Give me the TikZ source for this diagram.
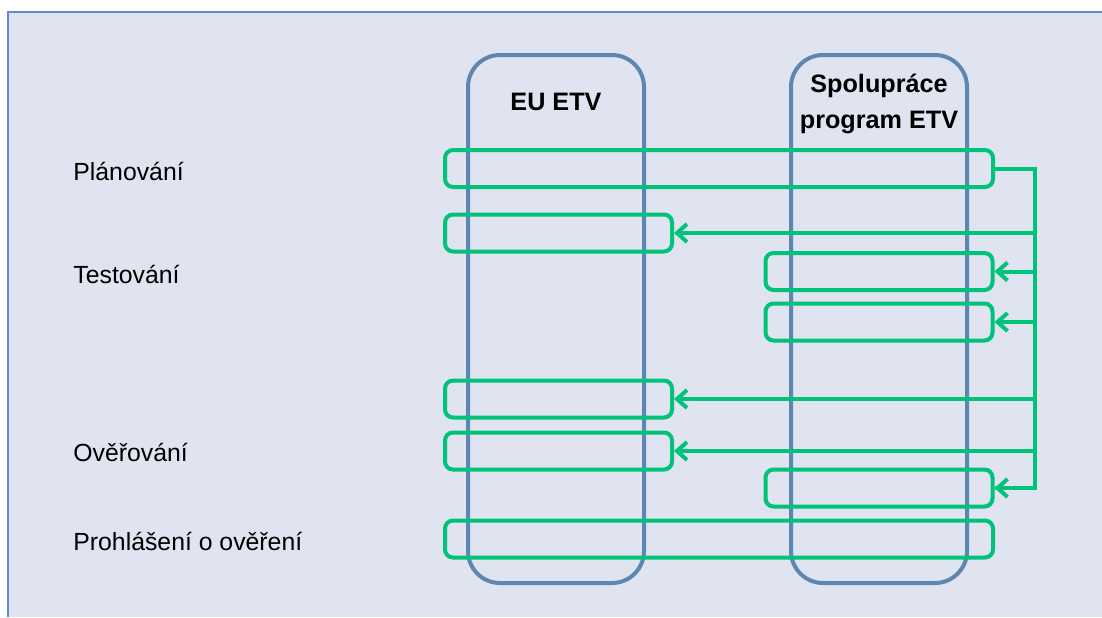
\documentclass[tikz,border=0pt]{standalone}
\usepackage{fontspec}
\setmainfont{Liberation Sans}
\usetikzlibrary{arrows.meta,positioning}

\definecolor{panelbg}{RGB}{224,227,240}
\definecolor{panelline}{RGB}{95,140,205}
\definecolor{lanecol}{RGB}{91,135,176}
\definecolor{stepgreen}{RGB}{0,194,120}

\tikzset{
  lane/.style={draw=lanecol, line width=2pt, rounded corners=16pt,
    minimum width=88pt, minimum height=264pt},
  task/.style={draw=stepgreen, line width=2pt, rounded corners=4pt,
    minimum height=18.5pt, inner sep=0pt},
  shorttask/.style={task, minimum width=113.5pt},
  longtask/.style={task, minimum width=274pt},
  phase/.style={anchor=west, inner sep=0pt, text height=8.9pt, text depth=0pt,
    font=\fontsize{12.4}{14}\selectfont},
  head/.style={align=center, inner sep=0pt, font=\fontsize{12.6}{18}\selectfont\bfseries},
  wire/.style={draw=stepgreen, line width=2pt},
  flow/.style={wire, -{Straight Barb[length=5pt,width=9pt]}},
}

\begin{document}
\begin{tikzpicture}[x=0.5pt,y=-0.5pt]
        \useasboundingbox (0,0) rectangle (1102,617);
        \fill[panelbg] (8,12) rectangle (1102,617);
        \draw[panelline, line width=0.6pt] (8,617) -- (8,12) -- (1102,12);

        % lanes
        \node[lane] (eu) at (556,319) {};
        \node[lane] (coop) at (879,319) {};
        \node[head] (euhead) at (556,102) {EU ETV};
        \node[head] (coophead) at (879,104) {Spolupráce\\program ETV};

        % phases
        \node[phase] (plan) at (73,171.5) {Plánování};
        \node[phase] (test) at (73,274.5) {Testování};
        \node[phase] (verify) at (73,453) {Ověřování};
        \node[phase] (declare) at (73,541.5) {Prohlášení o ověření};

        % steps
        \node[longtask] (plantask) at (719,168.5) {};
        \node[shorttask] (euA) at (558.5,233) {};
        \node[shorttask] (coopA) at (879,271.5) {};
        \node[shorttask] (coopB) at (879,322) {};
        \node[shorttask] (euB) at (558.5,399) {};
        \node[shorttask] (euC) at (558.5,451) {};
        \node[shorttask] (coopC) at (879,488) {};
        \node[longtask] (decltask) at (719,539) {};

        \coordinate (bus) at (1035,168.5);
        \draw[wire] (plantask.east) -- (bus) |- (coopC.east);
        \foreach \t in {euA,coopA,coopB,euB,euC,coopC}
                \draw[flow] (bus) |- (\t.east);
\end{tikzpicture}
\end{document}
